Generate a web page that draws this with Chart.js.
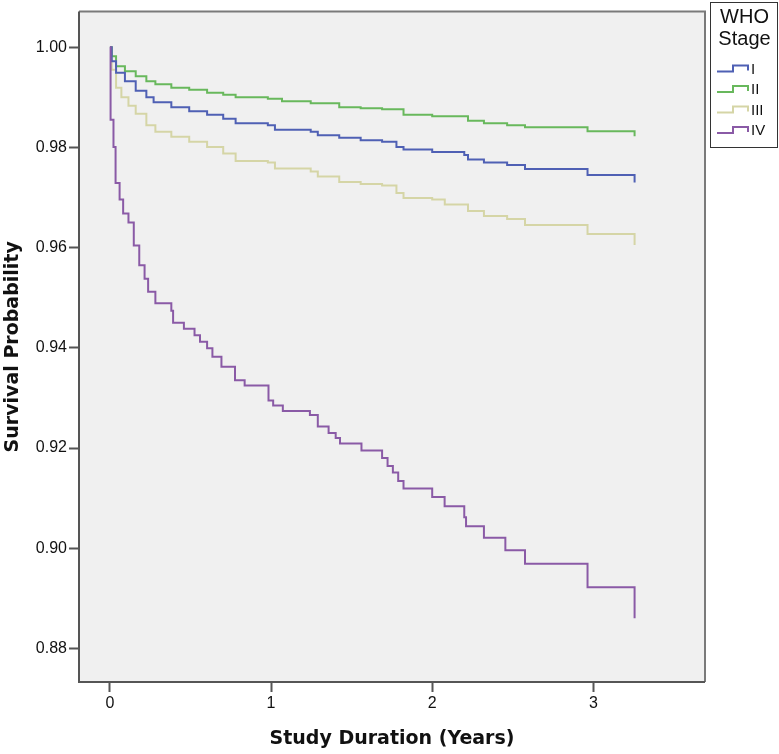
<!DOCTYPE html>
<html>
<head>
<meta charset="utf-8">
<script src="https://cdn.jsdelivr.net/npm/chart.js@4.4.1/dist/chart.umd.min.js"></script>
<style>
  html, body { margin: 0; padding: 0; background: #ffffff; }
  #wrap { width: 779px; height: 754px; }
</style>
</head>
<body>
<div id="wrap"><canvas id="c" width="779" height="754"></canvas></div>
<script>
// ---- data ----
const seriesNames = ['I', 'II', 'III', 'IV'];
const legendTitle = ['WHO', 'Stage'];
const xTitle = 'Study Duration (Years)';
const yTitle = 'Survival Probability';
const xTickValues = [0, 1, 2, 3];
const yTickValues = [0.88, 0.90, 0.92, 0.94, 0.96, 0.98, 1.00];

const timesI = [0, 0.011, 0.038, 0.093, 0.160, 0.226, 0.271, 0.381, 0.492, 0.603, 0.703, 0.780, 0.980, 1.024, 1.246, 1.290, 1.423, 1.556, 1.689, 1.778, 1.822, 2.000, 2.199, 2.222, 2.321, 2.465, 2.576, 2.964, 3.256];
const survI  = [1.0, 0.9972, 0.9949, 0.9932, 0.9913, 0.9900, 0.9890, 0.9880, 0.9872, 0.9865, 0.9857, 0.9848, 0.9844, 0.9835, 0.9831, 0.9824, 0.9819, 0.9814, 0.9811, 0.9801, 0.9796, 0.9791, 0.9785, 0.9776, 0.9770, 0.9765, 0.9757, 0.9745, 0.9730];

const timesII = [0, 0.011, 0.038, 0.093, 0.160, 0.226, 0.282, 0.381, 0.492, 0.603, 0.703, 0.780, 0.980, 1.068, 1.246, 1.423, 1.556, 1.689, 1.822, 2.000, 2.222, 2.321, 2.465, 2.576, 2.964, 3.256];
const survII  = [1.0, 0.9982, 0.9962, 0.9952, 0.9942, 0.9932, 0.9926, 0.9919, 0.9915, 0.9909, 0.9905, 0.9900, 0.9897, 0.9892, 0.9888, 0.9880, 0.9878, 0.9876, 0.9865, 0.9862, 0.9853, 0.9848, 0.9844, 0.9840, 0.9832, 0.9822];

const timesIII = [0, 0.011, 0.038, 0.071, 0.115, 0.160, 0.226, 0.282, 0.381, 0.492, 0.603, 0.703, 0.780, 0.980, 1.024, 1.246, 1.290, 1.423, 1.556, 1.689, 1.778, 1.822, 2.000, 2.078, 2.222, 2.321, 2.465, 2.576, 2.964, 3.256];
const survIII  = [1.0, 0.9955, 0.9919, 0.9900, 0.9883, 0.9867, 0.9844, 0.9831, 0.9821, 0.9811, 0.9801, 0.9788, 0.9773, 0.9770, 0.9758, 0.9752, 0.9742, 0.9731, 0.9727, 0.9724, 0.9709, 0.9699, 0.9696, 0.9686, 0.9673, 0.9663, 0.9657, 0.9645, 0.9627, 0.9605];

const timesIV = [0, 0.004, 0.022, 0.035, 0.060, 0.082, 0.115, 0.148, 0.182, 0.215, 0.237, 0.282, 0.381, 0.392, 0.459, 0.525, 0.559, 0.603, 0.636, 0.692, 0.776, 0.836, 0.984, 1.013, 1.073, 1.241, 1.290, 1.357, 1.401, 1.428, 1.561, 1.689, 1.723, 1.756, 1.789, 1.822, 2.000, 2.077, 2.199, 2.210, 2.321, 2.454, 2.576, 2.964, 3.256];
const survIV  = [1.0, 0.9855, 0.9801, 0.9729, 0.9696, 0.9668, 0.9650, 0.9604, 0.9565, 0.9538, 0.9512, 0.9489, 0.9474, 0.9450, 0.9438, 0.9425, 0.9412, 0.9399, 0.9382, 0.9362, 0.9335, 0.9325, 0.9295, 0.9285, 0.9274, 0.9266, 0.9243, 0.9230, 0.9220, 0.9209, 0.9195, 0.9180, 0.9164, 0.9151, 0.9134, 0.9119, 0.9102, 0.9084, 0.9062, 0.9044, 0.9021, 0.8996, 0.8969, 0.8922, 0.8860];

// ---- styles ----
const colors = ['#4f60b4', '#68b85c', '#d5d5a6', '#8a5aa6'];
const drawOrder = [1, 2, 3, 0];

const seriesTimes = [timesI, timesII, timesIII, timesIV];
const seriesSurv = [survI, survII, survIII, survIV];

const datasets = seriesNames.map((name, k) => ({
  label: name,
  data: seriesTimes[k].map((t, i) => ({ x: t, y: seriesSurv[k][i] })),
  borderColor: colors[k],
  borderWidth: 2,
  pointRadius: 0,
  stepped: true,
  fill: false,
  order: drawOrder[k]
}));

const framePlugin = {
  id: 'frame',
  beforeDraw(chart) {
    const { ctx, chartArea: a } = chart;
    ctx.save();
    ctx.fillStyle = '#f0f0f0';
    ctx.fillRect(a.left, a.top, a.right - a.left, a.bottom - a.top);
    ctx.restore();
  },
  afterDraw(chart) {
    const { ctx, chartArea: a } = chart;
    ctx.save();
    // plot frame
    ctx.lineWidth = 2;
    ctx.strokeStyle = '#7a7a7a';
    ctx.beginPath();
    ctx.moveTo(a.left, a.top);
    ctx.lineTo(a.right, a.top);
    ctx.lineTo(a.right, a.bottom);
    ctx.stroke();
    ctx.strokeStyle = '#555555';
    ctx.beginPath();
    ctx.moveTo(a.left, a.top);
    ctx.lineTo(a.left, a.bottom);
    ctx.lineTo(a.right, a.bottom);
    ctx.stroke();

    // legend box
    const lx = 710, ly = 2, lw = 67, lh = 145;
    ctx.lineWidth = 1;
    ctx.strokeStyle = '#333333';
    ctx.strokeRect(lx + 0.5, ly + 0.5, lw, lh);
    ctx.fillStyle = '#111111';
    ctx.font = '20px "Liberation Sans", Arial, sans-serif';
    ctx.textAlign = 'center';
    ctx.textBaseline = 'alphabetic';
    ctx.fillText(legendTitle[0], lx + lw / 2 + 1, 23);
    ctx.fillText(legendTitle[1], lx + lw / 2 + 1, 45);
    const rowY = [68.5, 89, 109.5, 130];
    ctx.font = '15px "Liberation Sans", Arial, sans-serif';
    ctx.textAlign = 'left';
    seriesNames.forEach((name, k) => {
      const cy = rowY[k];
      ctx.strokeStyle = colors[k];
      ctx.lineWidth = 2;
      ctx.beginPath();
      ctx.moveTo(717, cy + 3);
      ctx.lineTo(733, cy + 3);
      ctx.lineTo(733, cy - 3);
      ctx.lineTo(748, cy - 3);
      ctx.lineTo(748, cy + 2);
      ctx.stroke();
      ctx.fillStyle = '#111111';
      ctx.fillText(name, 751, cy + 5);
    });
    ctx.restore();
  }
};

const tickFont = { family: '"Liberation Sans", Arial, sans-serif', size: 16 };
const titleFont = { family: '"DejaVu Sans", Verdana, sans-serif', size: 19, weight: 'bold', lineHeight: 1.2 };

new Chart(document.getElementById('c'), {
  type: 'line',
  data: { datasets },
  plugins: [framePlugin],
  options: {
    responsive: false,
    animation: false,
    devicePixelRatio: 1,
    layout: { padding: { left: 0, top: 3, right: 74, bottom: 0 } },
    plugins: { legend: { display: false }, tooltip: { enabled: false } },
    scales: {
      x: {
        type: 'linear',
        min: -0.192,
        max: 3.693,
        afterFit(s) { s.height = 72; },
        afterBuildTicks(s) { s.ticks = xTickValues.map(v => ({ value: v })); },
        grid: { drawOnChartArea: false, drawTicks: true, tickLength: 10, tickWidth: 2, tickColor: '#555555' },
        border: { display: false },
        ticks: { font: tickFont, color: '#111111', padding: 2, maxRotation: 0, callback: v => String(v) },
        title: { display: true, text: xTitle, font: titleFont, color: '#111111', padding: { top: 0, bottom: 4 } }
      },
      y: {
        type: 'linear',
        min: 0.8733,
        max: 1.0071,
        afterFit(s) { s.width = 79; },
        afterBuildTicks(s) { s.ticks = yTickValues.map(v => ({ value: v })); },
        grid: { drawOnChartArea: false, drawTicks: true, tickLength: 10, tickWidth: 2, tickColor: '#555555' },
        border: { display: false },
        ticks: { font: tickFont, color: '#111111', padding: 2, callback: v => Number(v).toFixed(2) },
        title: { display: true, text: yTitle, font: titleFont, color: '#111111', padding: { top: 2, bottom: 0 } }
      }
    }
  }
});
</script>
</body>
</html>
